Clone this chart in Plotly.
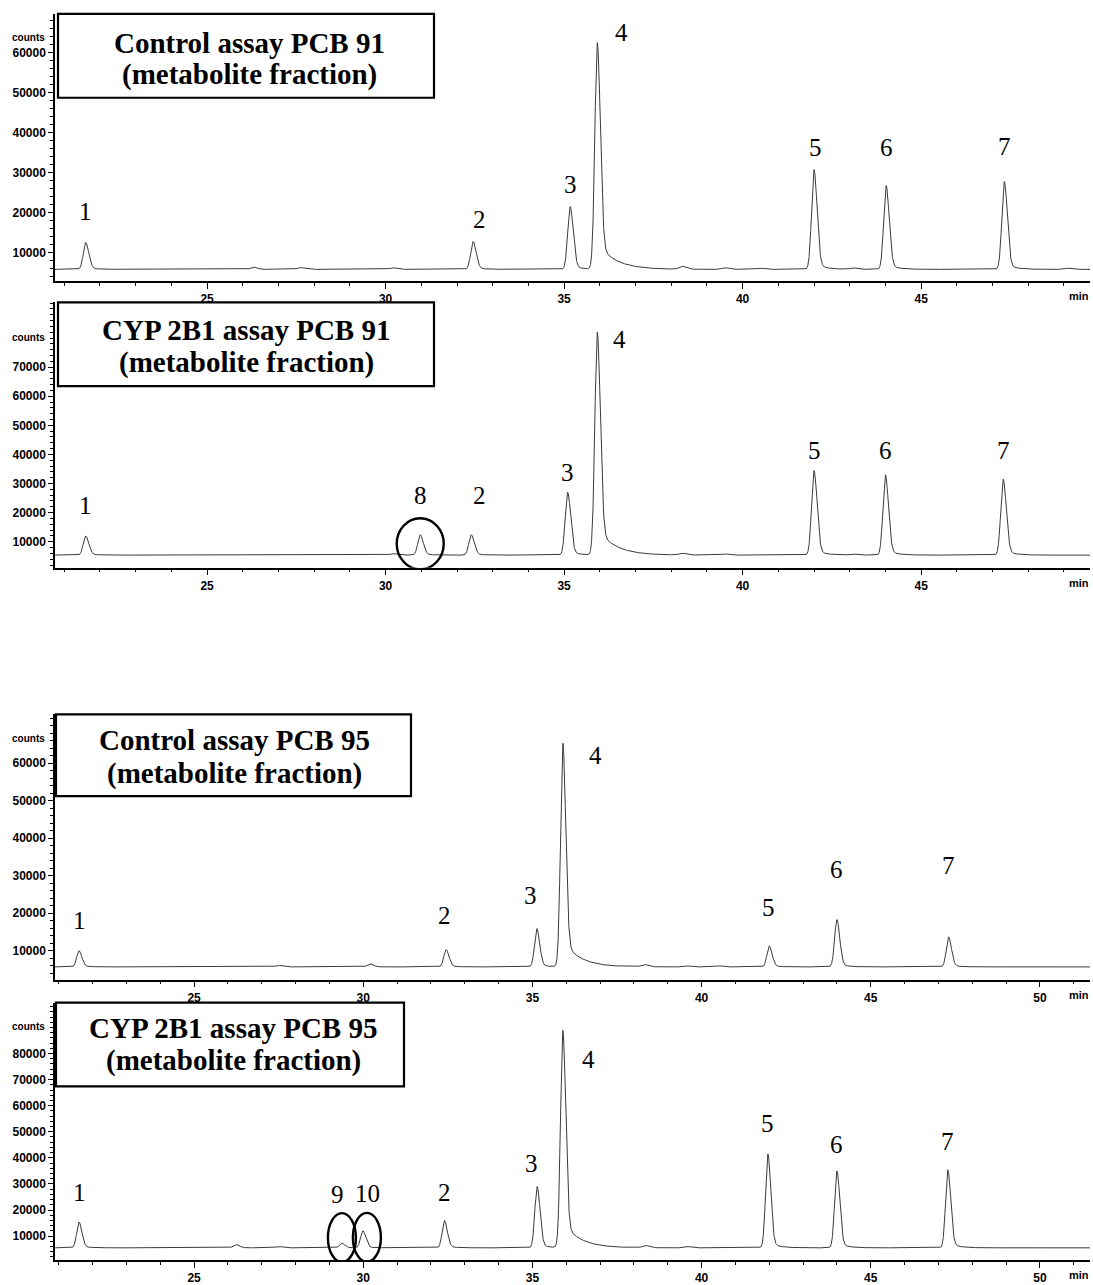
import numpy as np
import plotly.graph_objects as go

W, H = 1093, 1285

# ---------------- data: retention time (min) and apex height (counts) ----------------
# PCB 91, control assay
c91_rt = [21.6, 26.3, 27.6, 30.2, 32.45, 35.17, 35.93, 38.3, 39.5, 40.5, 42.0, 43.1, 44.02, 47.33, 49.1]
c91_h = [12500, 6300, 6200, 6150, 12750, 21500, 62500, 6500, 6150, 6050, 30750, 6100, 26750, 27750, 6050]
c91_base = 5750

# PCB 91, CYP 2B1 assay
e91_rt = [21.6, 30.2, 30.97, 32.4, 35.1, 35.93, 38.3, 39.5, 42.0, 43.1, 44.0, 47.3]
e91_h = [12000, 5900, 12400, 12400, 27000, 82000, 6000, 5800, 34500, 5800, 33000, 31500]
e91_base = 5400

# PCB 95, control assay
c95_rt = [21.6, 27.5, 30.2, 32.45, 35.13, 35.9, 38.3, 39.6, 40.5, 42.0, 44.0, 47.3]
c95_h = [10000, 6100, 6500, 10300, 15900, 65300, 6300, 5950, 6000, 11300, 18300, 13700]
c95_base = 5700

# PCB 95, CYP 2B1 assay
e95_rt = [21.6, 26.24, 27.5, 29.37, 29.99, 32.4, 35.14, 35.9, 38.33, 39.57, 41.96, 44.0, 47.28]
e95_h = [15400, 6800, 6000, 7300, 12000, 16000, 29000, 88800, 6400, 6000, 41500, 35000, 35400]
e95_base = 5500

# peak widths (sigma, min) and tailing (fraction, decay constant in min)
main_sigma = 0.068
minor_sigma = 0.08
big_tail = (0.12, 0.48)
small_tail = (0.07, 0.25)

# numbered peaks: label -> index into the peak arrays
c91_labels = {"1": 0, "2": 4, "3": 5, "4": 6, "5": 10, "6": 12, "7": 13}
e91_labels = {"1": 0, "8": 2, "2": 3, "3": 4, "4": 5, "5": 8, "6": 10, "7": 11}
c95_labels = {"1": 0, "2": 3, "3": 4, "4": 5, "5": 9, "6": 10, "7": 11}
e95_labels = {"1": 0, "9": 3, "10": 4, "2": 5, "3": 6, "4": 7, "5": 10, "6": 11, "7": 12}

titles = [
    ("Control assay PCB 91", "(metabolite fraction)"),
    ("CYP 2B1 assay PCB 91", "(metabolite fraction)"),
    ("Control assay PCB 95", "(metabolite fraction)"),
    ("CYP 2B1 assay PCB 95", "(metabolite fraction)"),
]


def chromatogram(t, base, rts, heights, labels):
    """Sum of tailed Gaussian peaks on a flat baseline; apex equals the given height."""
    y = np.full_like(t, float(base))
    numbered = set(labels.values())
    big = max(range(len(heights)), key=lambda i: heights[i])
    for i, (rt, h) in enumerate(zip(rts, heights)):
        s = main_sigma if i in numbered else minor_sigma
        f, tau = big_tail if i == big else small_tail
        d = t - rt
        left = np.exp(-0.5 * (d / s) ** 2)
        right = (1 - f) * np.exp(-0.5 * (d / (1.25 * s)) ** 2) + f * np.exp(-np.clip(d, 0, None) / tau)
        y += (h - base) * np.where(d < 0, left, right)
    return y


# ---------------- layout geometry (pixels) ----------------
panels = [
    dict(xr=(20.74, 49.73), yr=(2750, 69750), top=14, bot=282, ymax=60000,
         rt=c91_rt, h=c91_h, base=c91_base, labels=c91_labels, box=(58, 434, 14, 98), tx=249, ty=(43, 75), counts=38),
    dict(xr=(20.74, 49.73), yr=(1086, 92280), top=303, bot=569, ymax=70000,
         rt=e91_rt, h=e91_h, base=e91_base, labels=e91_labels, box=(58, 434, 303, 387), tx=246, ty=(331, 363), counts=338),
    dict(xr=(20.89, 51.48), yr=(2287, 73030), top=716, bot=982, ymax=60000,
         rt=c95_rt, h=c95_h, base=c95_base, labels=c95_labels, box=(56, 411, 716, 798), tx=234, ty=(742, 775), counts=740),
    dict(xr=(20.89, 51.48), yr=(818, 99500), top=1005, bot=1263, ymax=80000,
         rt=e95_rt, h=e95_h, base=e95_base, labels=e95_labels, box=(56, 404, 1005, 1089), tx=233, ty=(1030, 1063), counts=1029),
]

# label offsets in pixels (xshift, yshift) per panel
label_shift = [
    {"1": (0, 31), "2": (6, 22), "3": (0, 22), "4": (24, 10), "5": (1, 22), "6": (0, 38), "7": (0, 35)},
    {"1": (0, 30), "8": (0, 39), "2": (8, 39), "3": (0, 20), "4": (22, -7), "5": (0, 20), "6": (0, 24), "7": (0, 29)},
    {"1": (0, 30), "2": (-2, 34), "3": (-6, 33), "4": (33, -12), "5": (-1, 38), "6": (0, 50), "7": (0, 71)},
    {"1": (0, 30), "9": (-4, 49), "10": (5, 37), "2": (0, 28), "3": (-6, 23), "4": (26, -29), "5": (0, 30), "6": (0, 26), "7": (0, 28)},
]

X0, X1 = 55, 1090


def px(x):
    return x / W


def py(y):
    return 1 - y / H


fig = go.Figure()
annotations = []
shapes = []
tick_font = dict(family="Liberation Sans, Arial", size=12, color="black", weight="bold")

for i, p in enumerate(panels, start=1):
    xa = "x" if i == 1 else f"x{i}"
    ya = "y" if i == 1 else f"y{i}"
    t = np.linspace(p["xr"][0], p["xr"][1], 8000)
    y = chromatogram(t, p["base"], p["rt"], p["h"], p["labels"])
    fig.add_trace(go.Scatter(x=t, y=y, mode="lines", xaxis=xa, yaxis=ya,
                             line=dict(color="#3a3a3a", width=1), showlegend=False, hoverinfo="skip"))

    xmaj = list(range(25, int(p["xr"][1]) + 1, 5))
    ymaj = list(range(10000, p["ymax"] + 1, 10000))
    fig.update_layout({
        f"xaxis{'' if i == 1 else i}": dict(
            domain=[px(X0), px(X1)], anchor=ya, range=list(p["xr"]),
            showline=True, linecolor="black", linewidth=1.5, showgrid=False, zeroline=False,
            tickmode="array", tickvals=xmaj, ticktext=[str(v) for v in xmaj],
            ticks="outside", ticklen=6, tickwidth=1.2, tickcolor="black", tickfont=tick_font,
            minor=dict(dtick=1, tick0=0, ticks="outside", ticklen=3, tickwidth=1, tickcolor="black"),
        ),
        f"yaxis{'' if i == 1 else i}": dict(
            domain=[py(p["bot"]), py(p["top"])], anchor=xa, range=list(p["yr"]),
            showline=True, linecolor="black", linewidth=1.5, showgrid=False, zeroline=False,
            tickmode="array", tickvals=ymaj, ticktext=[str(v) for v in ymaj],
            ticks="outside", ticklen=5, tickwidth=1.2, tickcolor="black", tickfont=tick_font,
            minor=dict(dtick=2000, tick0=0, ticks="outside", ticklen=3, tickwidth=1, tickcolor="black"),
        ),
    })

    # peak numbers
    for lab, idx in p["labels"].items():
        dx, dy = label_shift[i - 1][lab]
        annotations.append(dict(x=p["rt"][idx], y=p["h"][idx], xref=xa, yref=ya, text=lab,
                                showarrow=False, xshift=dx, yshift=dy, xanchor="center", yanchor="middle",
                                font=dict(family="Liberation Serif, Times New Roman", size=25, color="black")))

    # title box
    bx0, bx1, by0, by1 = p["box"]
    shapes.append(dict(type="rect", xref="paper", yref="paper", x0=px(bx0), x1=px(bx1), y0=py(by1), y1=py(by0),
                       line=dict(color="black", width=2.2), fillcolor="white", layer="above"))
    for line_txt, ly in zip(titles[i - 1], p["ty"]):
        annotations.append(dict(x=px(p["tx"]), y=py(ly), xref="paper", yref="paper", text=f"<b>{line_txt}</b>",
                                showarrow=False, xanchor="center", yanchor="middle",
                                font=dict(family="Liberation Serif, Times New Roman", size=29, color="black")))

    # axis captions
    annotations.append(dict(x=px(47), y=py(p["counts"]), xref="paper", yref="paper", text="counts",
                            showarrow=False, xanchor="right", yanchor="middle",
                            font=dict(family="Liberation Sans, Arial", size=10, color="black", weight="bold")))
    annotations.append(dict(x=px(1091), y=py(p["bot"] + 15), xref="paper", yref="paper", text="min",
                            showarrow=False, xanchor="right", yanchor="middle",
                            font=dict(family="Liberation Sans, Arial", size=11, color="black", weight="bold")))

# circled metabolite peaks
circle_style = dict(type="circle", xsizemode="pixel", ysizemode="pixel",
                    line=dict(color="black", width=2.4), fillcolor="rgba(0,0,0,0)", layer="above")
shapes.append(dict(circle_style, xref="x2", yref="y2", xanchor=e91_rt[2], yanchor=e91_h[2],
                   x0=-23.5, x1=23.5, y0=-34.5, y1=16.5))
shapes.append(dict(circle_style, xref="x4", yref="y4", xanchor=e95_rt[3], yanchor=e95_h[3],
                   x0=-14, x1=14, y0=-19, y1=30))
shapes.append(dict(circle_style, xref="x4", yref="y4", xanchor=e95_rt[4], yanchor=e95_h[4],
                   x0=-10, x1=18, y0=-31, y1=18))

fig.update_layout(width=W, height=H, margin=dict(l=0, r=0, t=0, b=0),
                  paper_bgcolor="white", plot_bgcolor="white",
                  annotations=annotations, shapes=shapes, showlegend=False)

fig.write_html("out.html")
